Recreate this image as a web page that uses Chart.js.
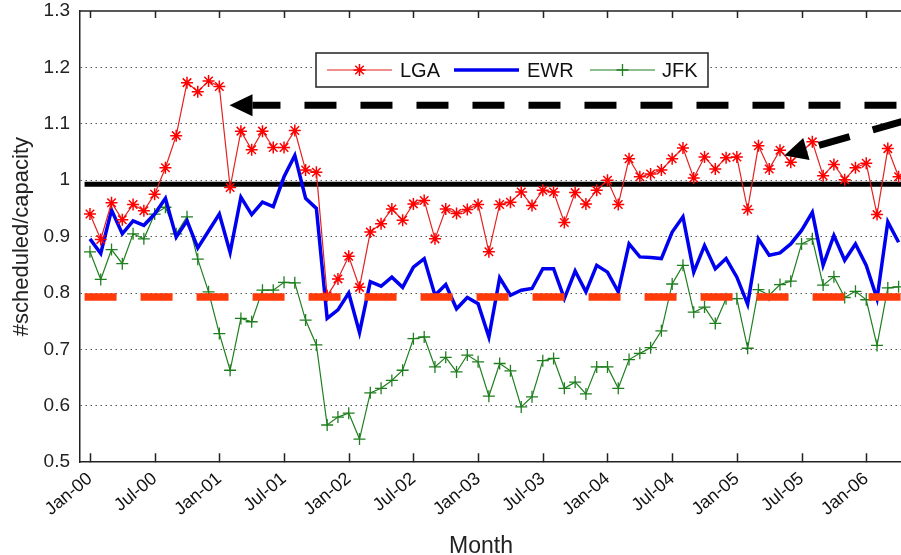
<!DOCTYPE html>
<html>
<head>
<meta charset="utf-8">
<script src="https://cdn.jsdelivr.net/npm/chart.js@4.4.1/dist/chart.umd.min.js"></script>
<style>
  html, body { margin: 0; padding: 0; background: #fff; overflow: hidden; }
  #wrap { position: absolute; left: 0; top: 0; width: 960px; height: 555px; }
</style>
</head>
<body>
<div id="wrap"><canvas id="chart" width="960" height="555"></canvas></div>
<script>
// Scheduled/capacity ratio per month, Jan-00 onwards (index = months since Jan-00).

const LGA = [
  0.940, 0.895, 0.960, 0.930, 0.957, 0.946, 0.975, 1.022, 1.079, 1.173,
  1.157, 1.176, 1.166, 0.987, 1.087, 1.054, 1.087, 1.058, 1.058, 1.088,
  1.018, 1.014, 0.795, 0.825, 0.865, 0.810, 0.908, 0.923, 0.949, 0.929,
  0.958, 0.964, 0.896, 0.949, 0.941, 0.948, 0.957, 0.873, 0.957, 0.961,
  0.979, 0.955, 0.982, 0.979, 0.925, 0.978, 0.958, 0.982, 1.000, 0.957,
  1.038, 1.006, 1.011, 1.018, 1.038, 1.057, 1.004, 1.041, 1.020, 1.040,
  1.041, 0.948, 1.061, 1.020, 1.053, 1.032, 1.050, 1.068, 1.008, 1.028,
  1.001, 1.022, 1.030, 0.939, 1.056, 1.006,
];
const EWR = [
  0.896, 0.870, 0.947, 0.905, 0.928, 0.920, 0.940, 0.968, 0.899, 0.928,
  0.880, 0.910, 0.940, 0.872, 0.970, 0.939, 0.961, 0.953, 1.006, 1.044,
  0.968, 0.950, 0.755, 0.770, 0.800, 0.730, 0.820, 0.812, 0.828, 0.810,
  0.846, 0.861, 0.796, 0.815, 0.772, 0.792, 0.781, 0.722, 0.827, 0.796,
  0.805, 0.808, 0.843, 0.843, 0.790, 0.839, 0.802, 0.849, 0.837, 0.802,
  0.887, 0.864, 0.863, 0.861, 0.908, 0.935, 0.837, 0.884, 0.843, 0.861,
  0.828, 0.780, 0.896, 0.867, 0.871, 0.887, 0.911, 0.943, 0.849, 0.902,
  0.858, 0.887, 0.849, 0.790, 0.926, 0.890,
];
const JFK = [
  0.873, 0.824, 0.877, 0.852, 0.905, 0.896, 0.940, 0.952, 0.905, 0.935,
  0.860, 0.802, 0.728, 0.663, 0.755, 0.749, 0.805, 0.805, 0.819, 0.818,
  0.752, 0.708, 0.566, 0.580, 0.587, 0.541, 0.623, 0.631, 0.645, 0.663,
  0.719, 0.722, 0.669, 0.686, 0.660, 0.690, 0.678, 0.617, 0.675, 0.662,
  0.598, 0.616, 0.680, 0.684, 0.631, 0.642, 0.621, 0.669, 0.669, 0.631,
  0.682, 0.693, 0.703, 0.733, 0.816, 0.849, 0.766, 0.775, 0.746, 0.790,
  0.790, 0.702, 0.806, 0.796, 0.815, 0.821, 0.887, 0.896, 0.814, 0.829,
  0.792, 0.803, 0.788, 0.707, 0.809, 0.811,
];

const TICK_MONTHS = [0, 6, 12, 18, 24, 30, 36, 42, 48, 54, 60, 66, 72];
const TICK_LABELS = ["Jan-00", "Jul-00", "Jan-01", "Jul-01", "Jan-02", "Jul-02", "Jan-03",
                     "Jul-03", "Jan-04", "Jul-04", "Jan-05", "Jul-05", "Jan-06"];

// Reference levels and annotation arrows, in data units (month index, ratio).
const CAPACITY_LEVEL = 0.993;
const LOW_LEVEL = 0.793;
const LEVEL_START = -0.5;
const ARROW_TOP = { tip: [12.94, 1.133], tail: [80, 1.133] };
const ARROW_DIAG = { tip: [64.4, 1.044], tail: [80, 1.130] };

const X_MIN = -0.924, X_MAX = 80;
const FONT = '"Liberation Sans", Arial, sans-serif';

const toXY = arr => arr.map((v, i) => ({ x: i, y: v }));

// --------------- Drawing helpers ---------------

function drawStar(ctx, cx, cy, r) {
  const d = r * Math.SQRT1_2;
  ctx.beginPath();
  ctx.moveTo(cx - r, cy); ctx.lineTo(cx + r, cy);
  ctx.moveTo(cx, cy - r); ctx.lineTo(cx, cy + r);
  ctx.moveTo(cx - d, cy - d); ctx.lineTo(cx + d, cy + d);
  ctx.moveTo(cx - d, cy + d); ctx.lineTo(cx + d, cy - d);
  ctx.stroke();
}
function drawCross(ctx, cx, cy, r) {
  ctx.beginPath();
  ctx.moveTo(cx - r, cy); ctx.lineTo(cx + r, cy);
  ctx.moveTo(cx, cy - r); ctx.lineTo(cx, cy + r);
  ctx.stroke();
}

// Dashed arrow: filled head at the tip, dashed shaft to the tail.
function drawArrow(ctx, x, y, spec, headLen, headHalf, dashOffset) {
  const tx = x.getPixelForValue(spec.tip[0]), ty = y.getPixelForValue(spec.tip[1]);
  const ex = x.getPixelForValue(spec.tail[0]), ey = y.getPixelForValue(spec.tail[1]);
  const len = Math.hypot(ex - tx, ey - ty);
  const ux = (ex - tx) / len, uy = (ey - ty) / len;
  const bx = tx + ux * headLen, by = ty + uy * headLen;

  ctx.fillStyle = "#000";
  ctx.beginPath();
  ctx.moveTo(tx, ty);
  ctx.lineTo(bx - uy * headHalf, by + ux * headHalf);
  ctx.lineTo(bx + uy * headHalf, by - ux * headHalf);
  ctx.closePath();
  ctx.fill();

  ctx.strokeStyle = "#000";
  ctx.lineWidth = 7;
  ctx.setLineDash([32, 24]);
  ctx.lineDashOffset = dashOffset;
  ctx.beginPath();
  ctx.moveTo(bx, by);
  ctx.lineTo(ex, ey);
  ctx.stroke();
  ctx.setLineDash([]);
  ctx.lineDashOffset = 0;
}

const overlay = {
  id: "overlay",
  beforeDatasetsDraw(chart) {
    const { ctx, chartArea: a, scales: { x, y } } = chart;
    ctx.save();
    ctx.beginPath();
    ctx.rect(a.left, a.top, a.right - a.left, a.bottom - a.top);
    ctx.clip();
    ctx.strokeStyle = "#000";
    ctx.lineWidth = 5;
    ctx.beginPath();
    ctx.moveTo(x.getPixelForValue(LEVEL_START), y.getPixelForValue(CAPACITY_LEVEL));
    ctx.lineTo(x.getPixelForValue(X_MAX), y.getPixelForValue(CAPACITY_LEVEL));
    ctx.stroke();
    ctx.restore();
  },
  afterDatasetsDraw(chart) {
    const { ctx, chartArea: a, scales: { x, y } } = chart;
    ctx.save();
    ctx.beginPath();
    ctx.rect(a.left, a.top, a.right - a.left, a.bottom - a.top);
    ctx.clip();

    // Lower reference level (orange dashed)
    ctx.strokeStyle = "#ff3b0a";
    ctx.lineWidth = 7.5;
    ctx.setLineDash([32, 24]);
    ctx.beginPath();
    ctx.moveTo(x.getPixelForValue(LEVEL_START), y.getPixelForValue(LOW_LEVEL));
    ctx.lineTo(x.getPixelForValue(X_MAX), y.getPixelForValue(LOW_LEVEL));
    ctx.stroke();
    ctx.setLineDash([]);

    drawArrow(ctx, x, y, ARROW_TOP, 23, 11, 4);
    drawArrow(ctx, x, y, ARROW_DIAG, 23, 11.5, 43);
    ctx.restore();

    // Box top edge and inward tick marks
    ctx.save();
    ctx.strokeStyle = "#222";
    ctx.lineWidth = 1.5;
    ctx.beginPath();
    ctx.moveTo(a.left, a.top); ctx.lineTo(a.right, a.top);
    for (const m of TICK_MONTHS) {
      const px = Math.round(x.getPixelForValue(m)) + 0.5;
      ctx.moveTo(px, a.top); ctx.lineTo(px, a.top + 7);
      ctx.moveTo(px, a.bottom); ctx.lineTo(px, a.bottom - 9);
    }
    ctx.stroke();
    ctx.restore();

    // Legend box
    const box = { left: 316, top: 53, width: 392, height: 34 };
    const items = [
      { ds: 0, lineX: 327, textX: 400, marker: "star", label: "LGA" },
      { ds: 1, lineX: 454, textX: 527, marker: null,   label: "EWR" },
      { ds: 2, lineX: 590, textX: 662, marker: "cross", label: "JFK" },
    ];
    ctx.save();
    ctx.fillStyle = "#fff";
    ctx.fillRect(box.left, box.top, box.width, box.height);
    ctx.strokeStyle = "#222";
    ctx.lineWidth = 1.5;
    ctx.strokeRect(box.left, box.top, box.width, box.height);
    const cy = box.top + box.height / 2;
    for (const it of items) {
      const ds = chart.data.datasets[it.ds];
      ctx.strokeStyle = ds.borderColor;
      ctx.lineWidth = ds.borderWidth;
      ctx.beginPath();
      ctx.moveTo(it.lineX, cy); ctx.lineTo(it.lineX + 65, cy);
      ctx.stroke();
      ctx.strokeStyle = ds.pointBorderColor || ds.borderColor;
      ctx.lineWidth = ds.pointBorderWidth || 1;
      if (it.marker === "star") drawStar(ctx, it.lineX + 32.5, cy, 6);
      if (it.marker === "cross") drawCross(ctx, it.lineX + 32.5, cy, 6);
      ctx.fillStyle = "#111";
      ctx.font = "20px " + FONT;
      ctx.textBaseline = "middle";
      ctx.fillText(it.label, it.textX, cy + 1);
    }
    ctx.restore();

    // x-axis title
    ctx.save();
    ctx.fillStyle = "#222";
    ctx.font = "23px " + FONT;
    ctx.textAlign = "center";
    ctx.textBaseline = "alphabetic";
    ctx.fillText("Month", 481, 553);
    ctx.restore();
  },
};

// --------------- Chart ---------------

const ctx = document.getElementById("chart").getContext("2d");
new Chart(ctx, {
  type: "line",
  data: {
    datasets: [
      { label: "LGA", data: toXY(LGA),
        borderColor: "#e42020", borderWidth: 1.2,
        pointStyle: "star", pointRadius: 6, pointBorderColor: "#ff0000",
        pointBorderWidth: 1.5, pointBackgroundColor: "#ff0000", tension: 0 },
      { label: "EWR", data: toXY(EWR),
        borderColor: "#0000f0", borderWidth: 3.5,
        pointRadius: 0, tension: 0 },
      { label: "JFK", data: toXY(JFK),
        borderColor: "#1f7f1f", borderWidth: 1.2,
        pointStyle: "cross", pointRadius: 6, pointBorderColor: "#1f7f1f",
        pointBorderWidth: 1.3, tension: 0 },
    ],
  },
  options: {
    responsive: false,
    animation: false,
    devicePixelRatio: 1,
    layout: { padding: { top: 11, right: 4, bottom: 0, left: 0 } },
    plugins: { legend: { display: false }, tooltip: { enabled: false } },
    scales: {
      x: {
        type: "linear",
        min: X_MIN,
        max: X_MAX,
        afterBuildTicks: axis => { axis.ticks = TICK_MONTHS.map(v => ({ value: v })); },
        afterFit: s => { s.height = 92.8; s.paddingLeft = 0; s.paddingRight = 0; },
        grid: { display: false, drawTicks: false },
        border: { display: true, color: "#222", width: 1.5 },
        ticks: {
          autoSkip: false, minRotation: 40, maxRotation: 40, padding: 6,
          color: "#111", font: { family: FONT, size: 18 },
          callback: v => TICK_LABELS[TICK_MONTHS.indexOf(v)] || "",
        },
      },
      y: {
        min: 0.5,
        max: 1.3,
        afterFit: s => { s.width = 80; s.paddingTop = 0; s.paddingBottom = 0; },
        grid: {
          drawTicks: false,
          lineWidth: 1,
          color: c => (c.tick && (c.tick.value < 0.55 || c.tick.value > 1.25)) ? "rgba(0,0,0,0)" : "#555",
        },
        border: { display: true, color: "#222", width: 1.5, dash: [1.5, 3.5] },
        ticks: {
          stepSize: 0.1, padding: 10, color: "#222",
          font: { family: FONT, size: 19 },
          callback: v => Number(v.toFixed(1)).toString(),
        },
        title: {
          display: true, text: "#scheduled/capacity", color: "#222",
          font: { family: FONT, size: 22 }, padding: { top: 9, bottom: 0 },
        },
      },
    },
  },
  plugins: [overlay],
});
</script>
</body>
</html>
